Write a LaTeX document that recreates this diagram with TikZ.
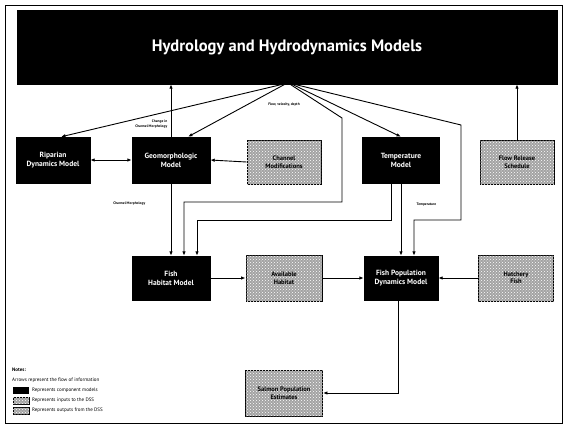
\documentclass[tikz,border=0pt]{standalone}
\usepackage{fontspec}
\setmainfont{PT Sans}
\usetikzlibrary{arrows.meta,patterns,calc}
\begin{document}
\begin{tikzpicture}[x=1pt,y=-1pt,
  blk/.style={draw=black,fill=black,text=white,align=center,inner sep=0pt,
    font=\bfseries\fontsize{7.5}{9}\selectfont},
  stipfill/.style={fill=gray!72,postaction={pattern=crosshatch dots,pattern color=white}},
  stip/.style={draw=black,line width=0.9pt,stipfill,
    align=center,inner sep=0pt,text=black,font=\bfseries\fontsize{6.5}{7.5}\selectfont},
  arr/.style={line width=0.9pt,-{Latex[length=4.5pt,width=3.5pt]}},
  arrb/.style={line width=0.9pt,{Latex[length=4.5pt,width=3.5pt]}-{Latex[length=4.5pt,width=3.5pt]}},
  lbl/.style={font=\bfseries\fontsize{3.6}{4.2}\selectfont,inner sep=0.5pt,align=right},
  leg/.style={font=\fontsize{5}{6}\selectfont,inner sep=0pt,anchor=west}]
\useasboundingbox (0,0) rectangle (565,426);
\draw[line width=1pt] (5,5) rectangle (562,423);

\node[blk,minimum width=540,minimum height=74,font=\bfseries\fontsize{16.5}{20}\selectfont] (title) at (287,47) {Hydrology and Hydrodynamics Models};

% row 1
\node[blk,minimum width=74,minimum height=46] (rip) at (53,160) {Riparian\\Dynamics Model};
\node[blk,minimum width=78,minimum height=46] (geo) at (171,160) {Geomorphologic\\Model};
\node[stip,minimum width=74,minimum height=44] (chan) at (284,162) {Channel\\Modifications};
\node[blk,minimum width=77,minimum height=46] (temp) at (401,160) {Temperature\\Model};
\node[stip,minimum width=74,minimum height=44] (flow) at (517,162) {Flow Release\\Schedule};

% row 2
\node[blk,minimum width=78,minimum height=44] (hab) at (171,278) {Fish\\Habitat Model};
\node[stip,minimum width=76,minimum height=46] (habin) at (284,278) {Available\\Habitat};
\node[blk,minimum width=74,minimum height=44] (pop) at (401,278) {Fish Population\\Dynamics Model};
\node[stip,minimum width=75,minimum height=46] (fishin) at (516,278) {Hatchery\\Fish};

% output
\node[stip,minimum width=77,minimum height=46] (out) at (284,393) {Salmon Population\\Estimates};

% fan from title
\draw[arr] ([xshift=-4pt]title.south) -- ([xshift=8pt]rip.north);
\draw[arr] ([xshift=-2pt]title.south) -- ([xshift=17pt]geo.north);
\draw[arr] ([xshift=3pt]title.south) -- (342,118) -- (342,202) -| ([xshift=13pt]hab.north);
\draw[arr] ([xshift=5pt]title.south) -- (temp.north);
\draw[arr] ([xshift=7pt]title.south) -- (461,125) -- (461,220) -| ([xshift=13pt]pop.north);

% up arrows
\draw[arr] (geo.north) -- (geo.north |- title.south);
\draw[arr] (flow.north) -- (flow.north |- title.south);

% row 1 horizontals
\draw[arrb] (rip.east) -- (geo.west);
\draw[arr] (chan.west) -- (geo.east);

% downward
\draw[arr] (geo.south) -- (hab.north);
\draw[arr] ([xshift=-9.5pt]temp.south) -- ++(0,37) -| ([xshift=26pt]hab.north);
\draw[arr] (temp.south) -- (pop.north);

% row 2 horizontals
\draw[arr] (hab.east) -- (habin.west);
\draw[arr] (habin.east) -- (pop.west);
\draw[arr] (fishin.west) -- (pop.east);

% to output
\draw[arr] ([xshift=-3pt]pop.south) |- (out.east);

% labels
\node[lbl] (l1) at (284,105) {Flow, velocity, depth};
\node[lbl,anchor=east] (l2) at (168,124) {Change in\\Channel Morphology};
\node[lbl,anchor=east] (l3) at (146,204) {Channel Morphology};
\node[lbl,anchor=west] (l4) at (416,205) {Temperature};

% legend
\node[leg,font=\bfseries\fontsize{5}{6}\selectfont] (n0) at (12,370) {Notes:};
\node[leg] (n1) at (12,380) {Arrows represent the flow of information};
\fill (13,387) rectangle (29,394);
\node[leg] (n2) at (32,390.5) {Represents component models};
\draw[line width=0.6pt,stipfill] (13,397) rectangle (29,404);
\node[leg] (n3) at (32,400.5) {Represents inputs to the DSS};
\draw[line width=0.6pt,stipfill] (13,407) rectangle (29,414);
\node[leg] (n4) at (32,410.5) {Represents outputs from the DSS};
\end{tikzpicture}
\end{document}
